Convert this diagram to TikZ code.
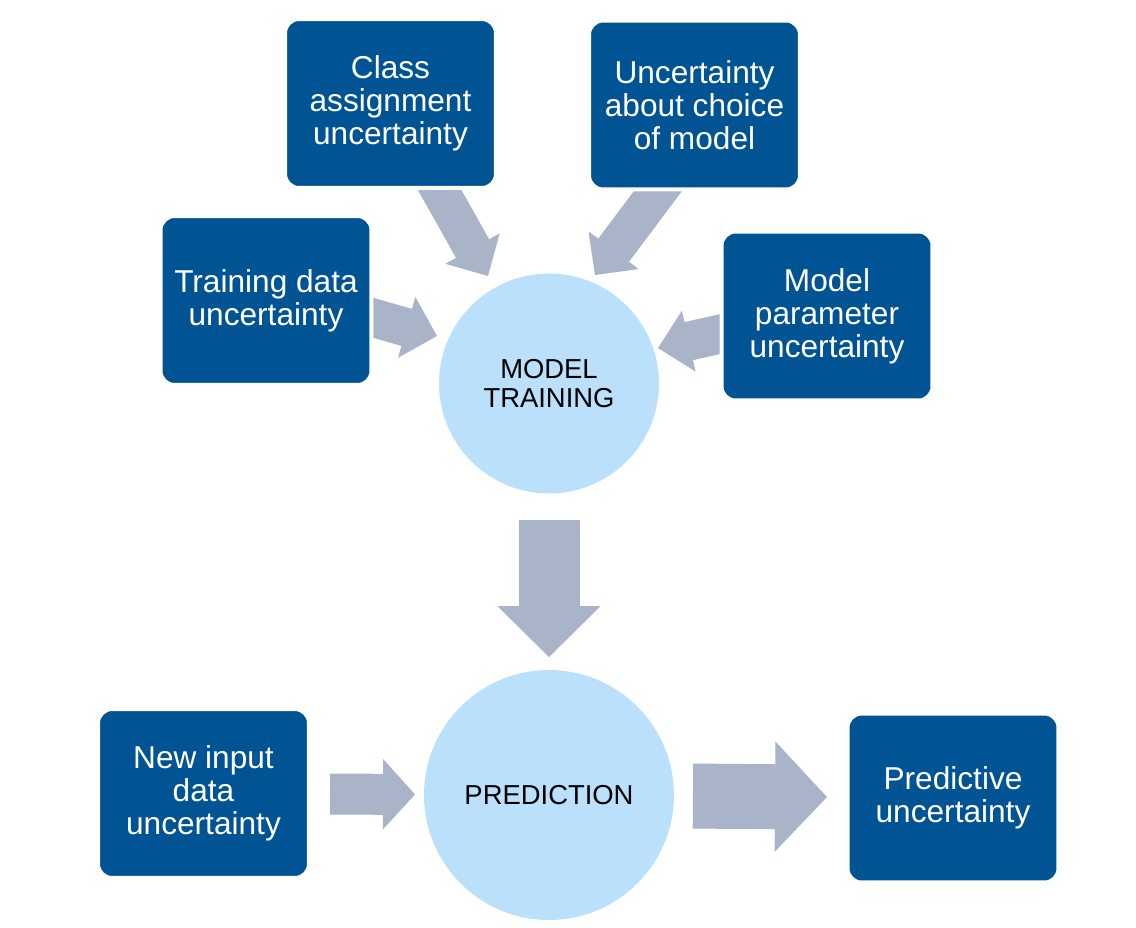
\documentclass[tikz,border=0pt]{standalone}
\usepackage{fontspec}
\setmainfont{Liberation Sans}
\usetikzlibrary{arrows.meta,backgrounds}
\definecolor{boxblue}{RGB}{0,84,148}
\definecolor{discblue}{RGB}{187,224,252}
\definecolor{arrowgrey}{RGB}{169,180,200}
\tikzset{
  unc/.style={rectangle,rounded corners=0.28cm,fill=boxblue,draw=white,line width=0.08cm,
    minimum width=4.22cm,minimum height=3.38cm,inner sep=0pt,outer sep=0pt,
    text=white,align=center,font=\fontsize{18}{18.8}\selectfont},
  stage/.style={circle,fill=discblue,inner sep=0pt,outer sep=0pt,align=center,
    font=\fontsize{15.6}{16.5}\selectfont},
  bigarrow/.style n args={3}{draw=arrowgrey,line width=#1,
    -{Triangle[length=#2,width=#3,line width=1pt]}},
}
\begin{document}
\begin{tikzpicture}[x=0.02cm,y=-0.02cm]
\useasboundingbox (0,0) rectangle (1136,927);
% stages
\node[stage,minimum size=4.4cm] (mt) at (549,383.5) {MODEL\\TRAINING};
\node[stage,minimum size=5cm] (pr) at (549,795) {PREDICTION};
% sources of uncertainty
\node[unc] (cls) at (390.5,103.5) {Class\\assignment\\uncertainty};
\node[unc] (choice) at (694.5,105) {Uncertainty\\about choice\\of model};
\node[unc] (train) at (266,300.5) {Training data\\uncertainty};
\node[unc] (param) at (827,316) {Model\\parameter\\uncertainty};
\node[unc] (newin) at (203.5,793.5) {New input\\data\\uncertainty};
\node[unc] (pred) at (953,798) {Predictive\\uncertainty};
\coordinate (tipC) at (488,276);
\coordinate (tipU) at (595,275);
\coordinate (tipT) at (437,336);
\coordinate (tipP) at (658,348);
\begin{scope}[on background layer]
\draw[bigarrow={0.76cm}{0.63cm}{1.24cm}] ([shift={(37.9,-18)}]cls.south) -- (tipC);
\draw[bigarrow={0.77cm}{0.62cm}{1.25cm}] ([shift={(-20.75,-19.5)}]choice.south) -- (tipU);
\draw[bigarrow={0.77cm}{0.63cm}{1.26cm}] ([shift={(-16.5,12.1)}]train.east) -- (tipT);
\draw[bigarrow={0.78cm}{0.63cm}{1.24cm}] ([shift={(16.5,14)}]param.west) -- (tipP);
\end{scope}
\draw[bigarrow={1.22cm}{1.02cm}{2.06cm},shorten <=0.53cm,shorten >=0.26cm] (mt) -- (pr);
\draw[bigarrow={0.82cm}{0.64cm}{1.4cm},shorten <=0.42cm,shorten >=0.18cm] (newin) -- (pr);
\draw[bigarrow={1.3cm}{1.04cm}{2.2cm},shorten <=0.38cm,shorten >=0.41cm] (pr) -- (pred);
\end{tikzpicture}
\end{document}
